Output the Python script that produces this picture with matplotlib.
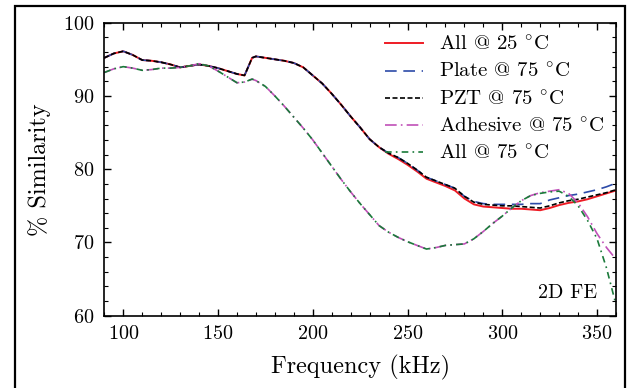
import matplotlib
matplotlib.use("Agg")
import matplotlib.pyplot as plt
from matplotlib.patches import Rectangle
from matplotlib.ticker import MultipleLocator

plt.rcParams['font.family'] = ['cmr10', 'DejaVu Serif']
plt.rcParams['mathtext.fontset'] = 'cm'
plt.rcParams['axes.unicode_minus'] = False
plt.rcParams['axes.formatter.use_mathtext'] = True

freq = [90, 95, 100, 105, 110, 115, 120, 125, 130, 135, 140, 145, 150, 155, 160, 164, 168,
        170, 175, 180, 185, 190, 195, 200, 205, 210, 215, 220, 225, 230, 235, 240, 245, 250,
        255, 260, 265, 270, 275, 280, 285, 290, 295, 300, 305, 310, 315, 320, 325, 330, 335,
        340, 345, 350, 355, 360]

pzt_75 = [95.2, 95.8, 96.1, 95.6, 94.9, 94.8, 94.6, 94.3, 93.9, 94.1, 94.3, 94.1, 93.8, 93.4,
          93.0, 92.8, 95.2, 95.4, 95.2, 95.0, 94.8, 94.5, 93.9, 92.8, 91.7, 90.3, 88.8, 87.2,
          85.7, 84.1, 83.0, 82.2, 81.6, 80.8, 79.9, 78.9, 78.4, 77.9, 77.4, 76.3, 75.5, 75.2,
          75.1, 75.0, 75.0, 74.9, 74.8, 74.7, 75.0, 75.4, 75.7, 75.9, 76.2, 76.5, 76.8, 77.2]

all_25 = [95.2, 95.8, 96.1, 95.6, 94.9, 94.8, 94.6, 94.3, 93.9, 94.1, 94.3, 94.1, 93.8, 93.4,
          93.0, 92.8, 95.2, 95.4, 95.2, 95.0, 94.8, 94.5, 93.9, 92.8, 91.7, 90.3, 88.8, 87.2,
          85.7, 84.1, 83.0, 82.1, 81.4, 80.6, 79.7, 78.7, 78.2, 77.7, 77.1, 76.0, 75.2, 74.9,
          74.8, 74.7, 74.6, 74.6, 74.5, 74.4, 74.7, 75.1, 75.4, 75.6, 75.9, 76.3, 76.7, 77.1]

plate_75 = [95.2, 95.8, 96.1, 95.6, 94.9, 94.8, 94.6, 94.3, 93.9, 94.1, 94.3, 94.1, 93.8, 93.4,
            93.0, 92.8, 95.2, 95.4, 95.2, 95.0, 94.8, 94.5, 93.9, 92.8, 91.7, 90.3, 88.8, 87.2,
            85.7, 84.1, 83.0, 82.2, 81.6, 80.8, 79.9, 78.9, 78.4, 77.9, 77.4, 76.3, 75.6, 75.3,
            75.2, 75.2, 75.2, 75.2, 75.3, 75.3, 75.8, 76.1, 76.4, 76.6, 76.9, 77.2, 77.6, 78.1]

adhesive_75 = [93.2, 93.7, 94.0, 93.8, 93.5, 93.6, 93.8, 93.8, 93.9, 94.1, 94.4, 94.1, 93.4,
               92.6, 91.8, 91.9, 92.3, 92.1, 91.3, 90.0, 88.6, 87.1, 85.6, 84.0, 82.2, 80.4,
               78.6, 76.9, 75.3, 73.8, 72.3, 71.4, 70.7, 70.1, 69.6, 69.1, 69.3, 69.6, 69.7,
               69.8, 70.5, 71.5, 72.6, 73.6, 74.7, 75.7, 76.4, 76.8, 77.0, 77.2, 76.7, 75.4,
               73.5, 71.2, 69.3, 67.7]

all_75 = [93.2, 93.7, 94.0, 93.8, 93.5, 93.6, 93.8, 93.8, 93.9, 94.1, 94.4, 94.1, 93.4,
          92.6, 91.8, 91.9, 92.3, 92.1, 91.3, 90.0, 88.6, 87.1, 85.6, 84.0, 82.2, 80.4,
          78.6, 76.9, 75.3, 73.8, 72.3, 71.4, 70.7, 70.1, 69.6, 69.1, 69.3, 69.6, 69.7,
          69.8, 70.5, 71.5, 72.6, 73.6, 74.7, 75.7, 76.4, 76.7, 76.9, 77.0, 76.3, 75.0,
          73.0, 70.5, 66.5, 61.5]

labels = [r'All @ 25 $^{\circ}$C', r'Plate @ 75 $^{\circ}$C', r'PZT @ 75 $^{\circ}$C',
          r'Adhesive @ 75 $^{\circ}$C', r'All @ 75 $^{\circ}$C']

W, H = 627, 388
fig = plt.figure(figsize=(W / 100, H / 100), dpi=100)
ax = fig.add_axes([104.3 / W, 1 - 315.7 / H, (616 - 104.3) / W, (315.7 - 22.7) / H])

lw = 1.2
ax.plot(freq, all_25, color='#ee1c25', lw=lw + 0.2, ls='-', label=labels[0])
ax.plot(freq, plate_75, color='#2c4aa8', lw=lw, ls=(0, (7, 4)), label=labels[1])
ax.plot(freq, pzt_75, color='black', lw=lw, ls=(0, (3, 1.5)), label=labels[2])
ax.plot(freq, adhesive_75, color='#c050b8', lw=lw, ls=(0, (7, 2.5, 1, 2.5)), label=labels[3])
ax.plot(freq, all_75, color='#1a7a3a', lw=lw, ls=(0, (4, 2.5, 1, 2.5)), label=labels[4])

ax.set_xlim(90, 360)
ax.set_ylim(60, 100)
ax.xaxis.set_major_locator(MultipleLocator(50))
ax.xaxis.set_minor_locator(MultipleLocator(10))
ax.yaxis.set_major_locator(MultipleLocator(10))
ax.yaxis.set_minor_locator(MultipleLocator(2))
ax.tick_params(which='both', direction='in', top=True, right=True, labelsize=14.5)
ax.tick_params(which='major', length=5, width=1.0, pad=7)
ax.tick_params(which='minor', length=3, width=0.8)
for s in ax.spines.values():
    s.set_linewidth(1.2)

ax.set_xlabel('Frequency (kHz)', fontsize=17.5, labelpad=8)
ax.set_ylabel('% Similarity', fontsize=17.5, labelpad=9)

ax.legend(loc='upper right', bbox_to_anchor=(0.993, 0.985), frameon=False, fontsize=15,
          handlelength=1.8, handletextpad=0.75, labelspacing=0.38, borderaxespad=0)

ax.text(0.963, 0.048, '2D FE', transform=ax.transAxes, ha='right', va='bottom', fontsize=14.5)

fig.patches.append(Rectangle((15 / W, -0.05), (625 - 15) / W, 1.05 - 6 / H,
                             transform=fig.transFigure, fill=False, edgecolor='black',
                             linewidth=1.6, clip_on=False))

fig.savefig('out.png', dpi=100)
